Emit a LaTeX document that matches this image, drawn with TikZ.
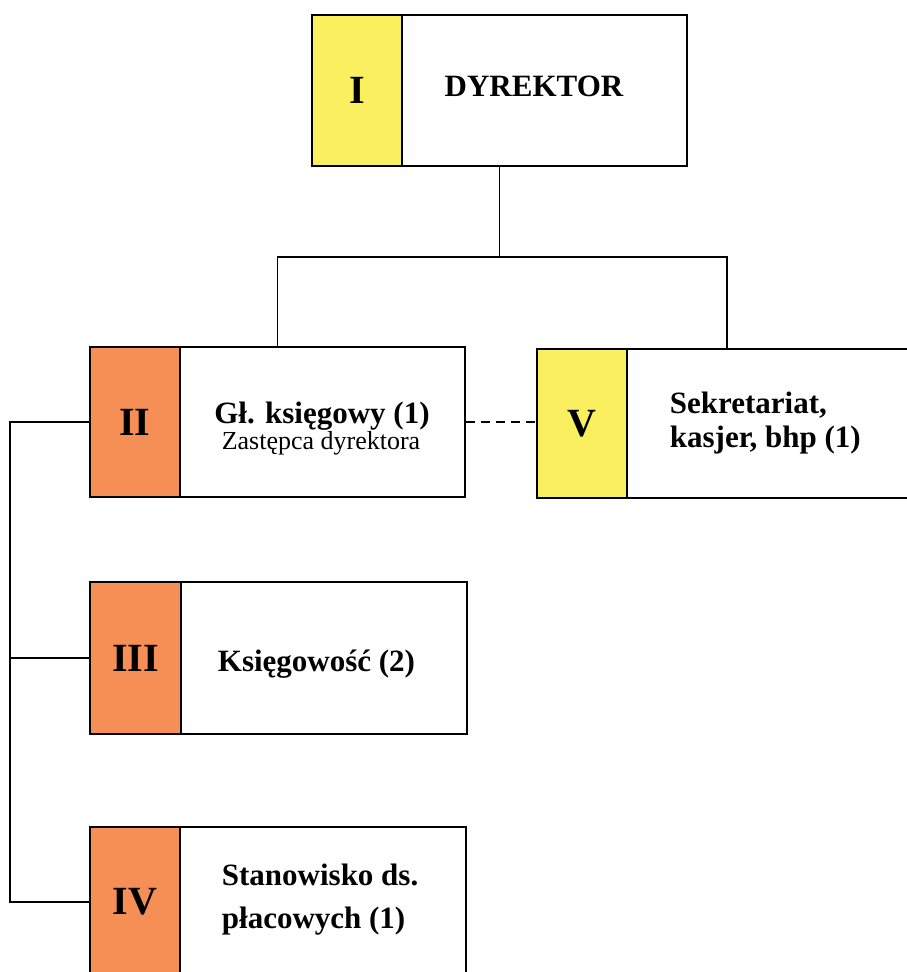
\documentclass[tikz,border=0pt]{standalone}
\usepackage{fontspec}
\setmainfont{Liberation Serif}
\usetikzlibrary{calc}
\definecolor{yel}{RGB}{250,240,95}
\definecolor{ora}{RGB}{245,143,85}
\begin{document}
\begin{tikzpicture}[x=1pt,y=-1pt, line width=1.8pt,
  numbox/.style={draw, anchor=north west, inner sep=0pt, minimum width=90pt,
    font=\bfseries\fontsize{40}{40}\selectfont},
  lblbox/.style={draw, anchor=north west, inner sep=0pt},
  btxt/.style={font=\bfseries\fontsize{31}{31}\selectfont, inner sep=0pt},
  rtxt/.style={font=\fontsize{26}{26}\selectfont, inner sep=0pt}]
\useasboundingbox (0,0) rectangle (906,972);
% I
\node[numbox, fill=yel, minimum height=151pt] (n1) at (311,14) {I};
\node[lblbox, minimum width=285pt, minimum height=151pt] (b1) at (401,14) {};
\node[btxt, anchor=base] (t1) at (534,96) {DYREKTOR};
% II
\node[numbox, fill=ora, minimum height=150pt] (n2) at (89,346) {II};
\node[lblbox, minimum width=285pt, minimum height=150pt] (b2) at (179,346) {};
\node[btxt, anchor=base] (t2a) at (322,423) {Gł. księgowy (1)};
\node[rtxt, anchor=base] (t2b) at (321,449) {Zastępca dyrektora};
% V
\node[numbox, fill=yel, minimum height=149pt] (n5) at (536,348) {V};
\node[lblbox, minimum width=290pt, minimum height=149pt] (b5) at (626,348) {};
\node[btxt, anchor=base west] (t5a) at (669,413) {Sekretariat,};
\node[btxt, anchor=base west] (t5b) at (669,447) {kasjer, bhp (1)};
% III
\node[numbox, fill=ora, minimum height=152pt, minimum width=91pt] (n3) at (89,581) {III};
\node[lblbox, minimum width=286pt, minimum height=152pt] (b3) at (180,581) {};
\node[btxt, anchor=base west] (t3) at (217,671) {Księgowość (2)};
% IV
\node[numbox, fill=ora, minimum height=150pt] (n4) at (89,826) {IV};
\node[lblbox, minimum width=286pt, minimum height=150pt] (b4) at (179,826) {};
\node[btxt, anchor=base west] (t4a) at (221,885) {Stanowisko ds.};
\node[btxt, anchor=base west] (t4b) at (221,928) {płacowych (1)};
% connectors
\coordinate (topmid) at ($(n1.south west)!0.5!(b1.south east)$);
\coordinate (j) at ($(topmid)+(0,90)$);
\coordinate (top2) at ($(n2.north west)!0.5!(b2.north east)$);
\coordinate (top5) at ($(n5.north west)!0.5!(b5.north east)$);
\draw (topmid) -- (j);
\draw (j) -| (top2);
\draw (j) -| (top5);
\draw[dash pattern=on 9pt off 6pt] (b2.east) -- (b2.east -| n5.west);
\coordinate (sp) at (10,0);
\draw (n2.west) -- (n2.west -| sp) |- (n4.west);
\draw (n3.west) -- (n3.west -| sp);
\end{tikzpicture}
\end{document}
